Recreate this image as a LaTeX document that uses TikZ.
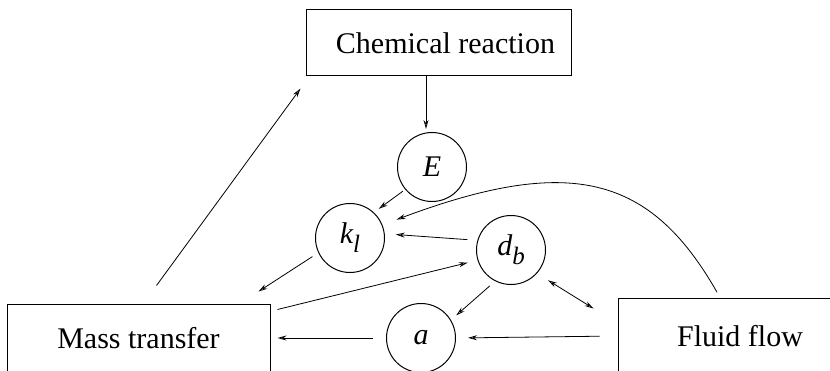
\documentclass[tikz,border=0pt]{standalone}
\usepackage{fontspec}
\setmainfont{Liberation Serif}
\usepackage{tikz}
\usetikzlibrary{arrows.meta,calc}

\newcommand{\sub}[1]{\raisebox{-0.3em}{\fontsize{25}{25}\selectfont #1}}

\begin{document}
\begin{tikzpicture}[
x=1pt,y=1pt,
box/.style={draw,line width=1pt,minimum height=66pt,font=\fontsize{30}{36}\selectfont},
var/.style={draw,circle,line width=1pt,minimum size=69pt,inner sep=0pt,font=\fontsize{30}{36}\selectfont\itshape},
arr/.style={-{Stealth[open,length=9pt,width=5pt]},line width=0.8pt},
darr/.style={{Stealth[open,length=9pt,width=5pt]}-{Stealth[open,length=9pt,width=5pt]},line width=0.8pt}
]
\useasboundingbox (0,0) rectangle (830,370);
\node[box,minimum width=265pt] (chem) at (438.5,327) {\hspace*{14pt}Chemical reaction};
\node[box,minimum width=263pt,minimum height=68pt] (mass) at (138.5,32) {Mass transfer};
\node[box,minimum width=244pt,minimum height=76pt] (fluid) at (740,34) {Fluid flow};
\node[var] (E) at (432,203) {E};
\node[var] (kl) at (350,132) {k\sub{l}};
\node[var] (db) at (511,120) {d\sub{b}};
\node[var] (a) at (421,32) {a};
% links between the parts
\draw[arr,shorten >=3pt] ([xshift=-12.5pt]chem.south) -- ([xshift=-6pt]E.north);
\draw[arr,shorten <=3pt,shorten >=6pt] (E.220) -- (kl.47);
\draw[arr,shorten <=10pt,shorten >=11pt] (db.164) -- (kl.7);
\draw[arr,shorten <=6pt,shorten >=15pt] ([xshift=-20pt]fluid.north)
  .. controls +(-70,123) and +(187,70) .. (kl.22);
\draw[arr,shorten <=7pt] (kl.205) -- ([shift={(-12pt,12pt)}]mass.north east);
\draw[arr,shorten >=10pt] ([shift={(7pt,-6pt)}]mass.north east) -- (db.197);
\draw[arr] ([shift={(18pt,18pt)}]mass.north) -- ([shift={(-5pt,-12pt)}]chem.south west);
\draw[arr,shorten <=7pt,shorten >=7pt] (db.243) -- (a.31);
\draw[arr,shorten <=13pt,shorten >=7pt] (a.west) -- (mass.east);
\draw[arr,shorten <=18pt,shorten >=12pt] (fluid.west) -- (a.east);
\draw[darr,shorten <=13pt] (db.-42) -- ([shift={(-24pt,-11pt)}]fluid.north west);
\end{tikzpicture}
\end{document}
